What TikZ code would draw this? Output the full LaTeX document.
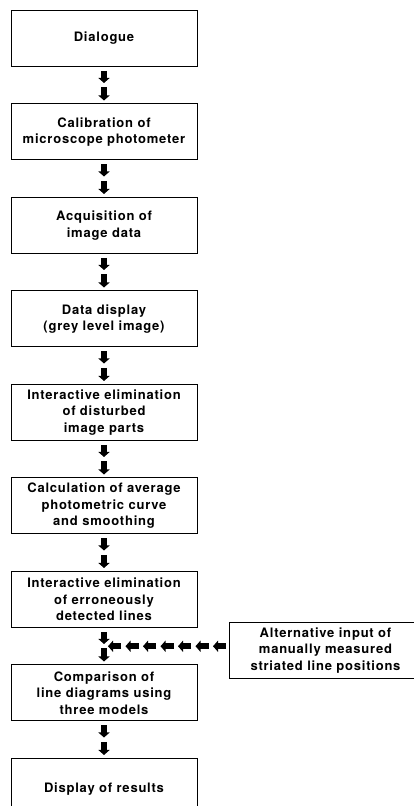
\documentclass[tikz,border=0pt]{standalone}
\usepackage{fontspec}
\setmainfont{TeX Gyre Heros}[LetterSpace=6]
\usetikzlibrary{positioning,arrows.meta,calc}

\tikzset{
    stage/.style={draw, line width=1pt, minimum width=186pt, minimum height=56pt,
        inner sep=2pt, align=center, font=\fontsize{13}{16.5}\selectfont\bfseries},
    blockarr/.style={line width=6pt, -{Triangle[width=11pt,length=5pt]}},
}

\begin{document}
\begin{tikzpicture}[x=1pt,y=1pt,node distance=36.5pt]
        \useasboundingbox (0,0) rectangle (413,806);

        % Disegna i riquadri
        \node[stage, anchor=north] (dialog) at (104,796) {Dialogue};
        \node[stage, below=of dialog] (calib) {Calibration of\\microscope photometer};
        \node[stage, below=of calib] (acq) {Acquisition of\\image data};
        \node[stage, below=of acq] (display) {Data display\\(grey level image)};
        \node[stage, below=of display] (elim1) {Interactive elimination\\of disturbed\\image parts};
        \node[stage, below=of elim1] (curve) {Calculation of average\\photometric curve\\and smoothing};
        \node[stage, below=of curve] (elim2) {Interactive elimination\\of erroneously\\detected lines};
        \node[stage, below=of elim2] (comp) {Comparison of\\line diagrams using\\three models};
        \node[stage, below=of comp, minimum height=62pt] (results) {Display of results};

        % Ingresso alternativo a destra
        \coordinate (join) at ($(elim2.south)!0.5!(comp.north)$);
        \node[stage, minimum width=192pt, anchor=west] (alt) at ([xshift=125pt,yshift=-4pt]join)
            {Alternative input of\\manually measured\\striated line positions};

        % Frecce doppie tra i riquadri
        \foreach \a/\b in {dialog/calib, calib/acq, acq/display, display/elim1,
                elim1/curve, curve/elim2, elim2/comp, comp/results} {
            \draw[blockarr] ([yshift=-4pt]\a.south) -- ([yshift=-16pt]\a.south);
            \draw[blockarr] ([yshift=16pt]\b.north) -- ([yshift=3pt]\b.north);
        }

        % Fila di frecce verso sinistra
        \coordinate (row) at (alt.west |- join);
        \foreach \i in {0,...,6}
            \draw[blockarr] ([xshift={-3pt-\i*17.5pt}]row) -- ++(-13pt,0);
\end{tikzpicture}
\end{document}
